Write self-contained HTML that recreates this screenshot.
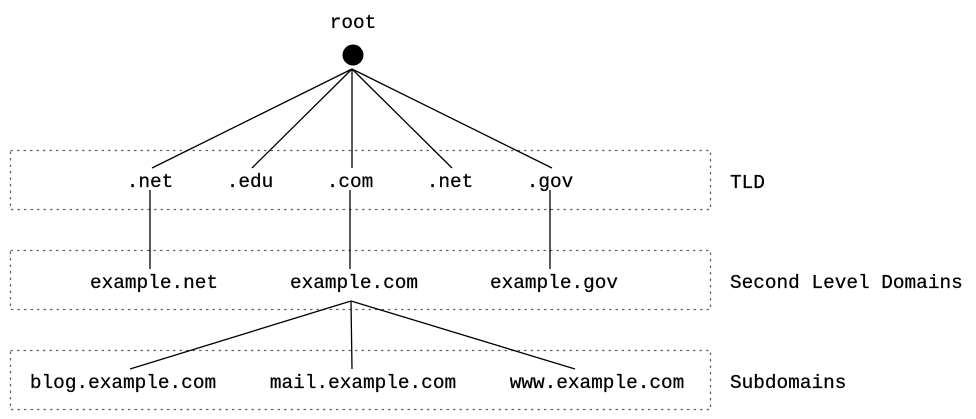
<!DOCTYPE html>
<html><head><style>
html,body{margin:0;padding:0;background:#fff;}
svg{display:block;}
text{font-family:"Liberation Mono","DejaVu Sans Mono",monospace;font-size:19.4px;fill:#000;}
</style></head><body>
<svg width="976" height="419" viewBox="0 0 976 419" xmlns="http://www.w3.org/2000/svg">
<g fill="none" stroke="#666" stroke-width="1.3" stroke-dasharray="2.5,4">
<rect x="10.5" y="150.5" width="700" height="59"/>
<rect x="10.5" y="250.5" width="700" height="59"/>
<rect x="10.5" y="350.5" width="700" height="59"/>
</g>
<circle cx="353" cy="55" r="10.5" fill="#000"/>
<g stroke="#000" stroke-width="1.3">
<line x1="352" y1="69" x2="152" y2="168"/>
<line x1="352" y1="69" x2="252" y2="168"/>
<line x1="352" y1="69" x2="352" y2="168"/>
<line x1="352" y1="69" x2="452" y2="168"/>
<line x1="352" y1="69" x2="552" y2="168"/>
<line x1="150" y1="190" x2="150" y2="269"/>
<line x1="350" y1="190" x2="350" y2="269"/>
<line x1="550" y1="190" x2="550" y2="269"/>
<line x1="351" y1="301" x2="130" y2="369"/>
<line x1="351" y1="301" x2="352" y2="369"/>
<line x1="351" y1="301" x2="575" y2="369"/>
</g>
<g text-anchor="middle" stroke="#000" stroke-width="0.25">
<text x="353" y="28">root</text>
<text x="150" y="187">.net</text>
<text x="250" y="187">.edu</text>
<text x="350" y="187">.com</text>
<text x="450" y="187">.net</text>
<text x="550" y="187">.gov</text>
<text x="154" y="288">example.net</text>
<text x="354" y="288">example.com</text>
<text x="554" y="288">example.gov</text>
<text x="123" y="388">blog.example.com</text>
<text x="363" y="388">mail.example.com</text>
<text x="597" y="388">www.example.com</text>
</g>
<g stroke="#000" stroke-width="0.25">
<text x="730" y="188">TLD</text>
<text x="730" y="288">Second Level Domains</text>
<text x="730" y="388">Subdomains</text>
</g>
</svg>
</body></html>
